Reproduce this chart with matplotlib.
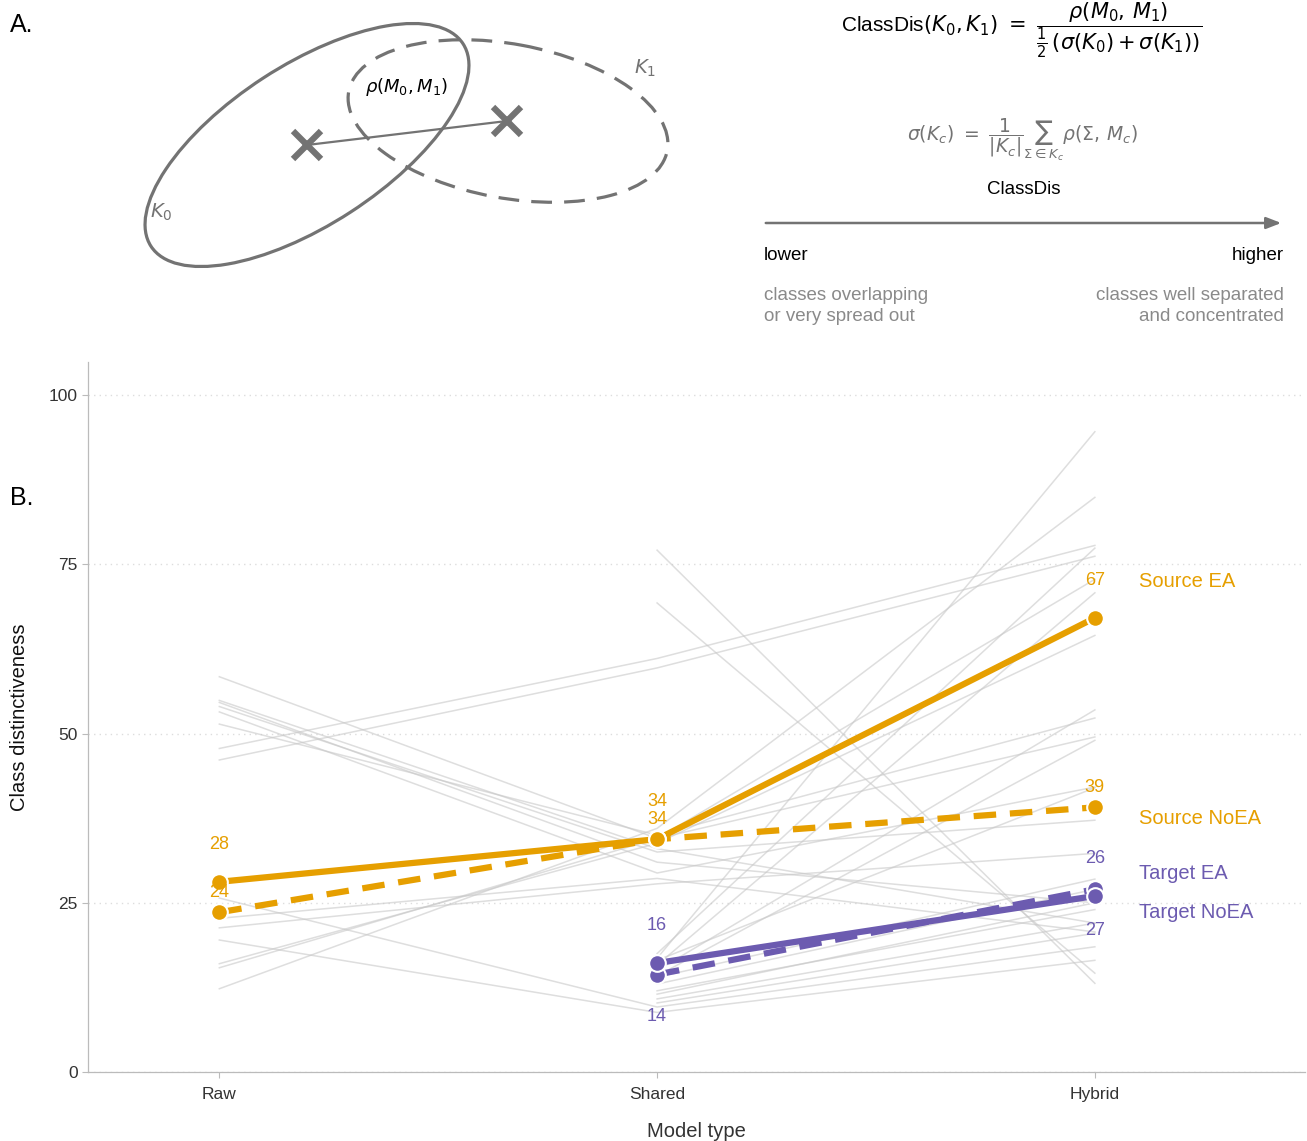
import matplotlib
matplotlib.use("Agg")
import matplotlib.pyplot as plt
from matplotlib.patches import Ellipse
import numpy as np

plt.rcParams['font.family'] = ['Liberation Sans', 'DejaVu Sans']
plt.rcParams['mathtext.fontset'] = 'dejavusans'

# ---- data ----
model_types = ["Raw", "Shared", "Hybrid"]

source_ea = [28.1, 34.4, 67.1]
source_noea = [23.6, 34.4, 39.1]
target_ea = [np.nan, 16.1, 26.0]
target_noea = [np.nan, 14.4, 27.0]

# individual source languages (Raw, Shared, Hybrid)
source_raw = [58.4, 54.9, 54.6, 54.0, 53.2, 51.4, 47.8, 46.1, 25.7, 22.7, 21.3, 19.5, 16.0, 15.4, 12.3]
source_shared = [34.5, 33.0, 31.0, 32.5, 29.4, 35.0, 61.1, 59.7, 9.6, 28.6, 27.8, 8.8, 33.8, 34.5, 36.0]
source_hybrid = [49.5, 22.0, 25.0, 37.2, 42.1, 52.3, 77.8, 76.2, 18.5, 20.7, 32.3, 16.5, 64.5, 72.8, 84.9]

# individual target languages (Shared, Hybrid)
target_shared = [77.1, 69.3, 16.8, 15.8, 15.0, 14.2, 17.5, 13.0, 12.0, 11.5, 10.8, 10.2, 16.5, 14.0]
target_hybrid = [13.1, 14.6, 94.6, 70.8, 53.5, 49.0, 77.4, 27.0, 24.0, 25.0, 22.0, 20.5, 42.0, 28.5]

series_names = ["Source EA", "Source NoEA", "Target EA", "Target NoEA"]
series_values = [source_ea, source_noea, target_ea, target_noea]

ORANGE = "#E69F00"
PURPLE = "#6c5bb0"
GRAY = "#737373"

styles = {
    "Source EA": dict(color=ORANGE, ls="-", lab_dy=27, name_dy=28, z=4),
    "Source NoEA": dict(color=ORANGE, ls=(0, (3.6, 2.2)), lab_dy=14.5, name_dy=-6.5, z=3),
    "Target EA": dict(color=PURPLE, ls="-", lab_dy=27, name_dy=18, z=4),
    "Target NoEA": dict(color=PURPLE, ls=(0, (3.6, 2.2)), lab_dy=-30, name_dy=-15, z=3),
}

W, H = 1307, 1141
fig = plt.figure(figsize=(W / 100, H / 100), dpi=100)

# ---- panel A: schematic, drawn in pixel coordinates ----
sk = fig.add_axes([0, 0, 1, 1])
sk.set_xlim(0, W)
sk.set_ylim(H, 0)
sk.axis("off")

sk.add_patch(Ellipse((307, 145), 2 * 186, 2 * 80, angle=-33, fill=False,
                     ec=GRAY, lw=2.3))
sk.add_patch(Ellipse((508, 121), 2 * 162, 2 * 77, angle=10.5, fill=False,
                     ec=GRAY, lw=2.3, ls=(0, (6.5, 3.8))))
sk.plot([307, 507], [145, 121], color=GRAY, lw=1.6)
sk.plot([307, 507], [145, 121], ls="none", marker="x", ms=20, mew=4.5, color=GRAY)
sk.text(407, 87, r"$\rho(M_0, M_1)$", fontsize=13, ha="center", va="center", color="black")
sk.text(161, 212, r"$K_0$", fontsize=14, ha="center", va="center", color=GRAY)
sk.text(645, 68, r"$K_1$", fontsize=14, ha="center", va="center", color=GRAY)

sk.text(1022, 30, r"ClassDis$(K_0, K_1)\ =\ \dfrac{\rho(M_0,\,M_1)}{\frac{1}{2}\,(\sigma(K_0) + \sigma(K_1))}$",
        fontsize=15, ha="center", va="center", color="black")
sk.text(1023, 140, r"$\sigma(K_c)\ =\ \dfrac{1}{|K_c|}\sum_{\Sigma\in K_c}\rho(\Sigma,\,M_c)$",
        fontsize=13.5, ha="center", va="center", color=GRAY)
sk.text(1024, 190, "ClassDis", fontsize=13.5, ha="center", va="center", color="black")
sk.annotate("", xy=(1284, 223), xytext=(763, 223),
            arrowprops=dict(arrowstyle="-|>,head_length=0.9,head_width=0.35",
                            color=GRAY, lw=1.8))
sk.text(764, 256, "lower", fontsize=13.5, ha="left", va="center", color="black")
sk.text(1284, 256, "higher", fontsize=13.5, ha="right", va="center", color="black")
sk.text(764, 306, "classes overlapping\nor very spread out", fontsize=13.5,
        ha="left", va="center", color="#8a8a8a", linespacing=1.35)
sk.text(1284, 306, "classes well separated\nand concentrated", fontsize=13.5,
        ha="right", va="center", color="#8a8a8a", linespacing=1.35, multialignment="right")

fig.text(10 / W, 1 - 25 / H, "A.", fontsize=18, va="center", ha="left")
fig.text(10 / W, 1 - 498 / H, "B.", fontsize=18, va="center", ha="left")

# ---- panel B: class distinctiveness per model type ----
ax = fig.add_axes([88 / W, 1 - 1072 / H, (1305 - 88) / W, (1072 - 362) / H])
ax.patch.set_alpha(0)
x = np.arange(len(model_types))

for r, s, h in zip(source_raw, source_shared, source_hybrid):
    ax.plot(x, [r, s, h], color="#c8c8c8", lw=1.1, alpha=0.6, zorder=1)
for s, h in zip(target_shared, target_hybrid):
    ax.plot(x[1:], [s, h], color="#c8c8c8", lw=1.1, alpha=0.6, zorder=1)

for name, vals in zip(series_names, series_values):
    st = styles[name]
    ax.plot(x, vals, color=st["color"], ls=st["ls"], lw=4.5, zorder=st["z"],
            solid_capstyle="butt", dash_capstyle="butt")
    ax.plot(x, vals, ls="none", marker="o", ms=12, mfc=st["color"], mec="white",
            mew=1.5, zorder=st["z"] + 2)
    for xi, v in zip(x, vals):
        if np.isnan(v):
            continue
        ax.annotate(f"{v:.0f}", (xi, v), xytext=(0, st["lab_dy"]), textcoords="offset points",
                    ha="center", va="center", fontsize=13, color=st["color"], zorder=8)
    ax.annotate(name, (x[-1], vals[-1]), xytext=(32, st["name_dy"] - 1.5), textcoords="offset points",
                ha="left", va="center", fontsize=14.5, color=st["color"], annotation_clip=False)

ax.set_xlim(-0.3, 2.48)
ax.set_ylim(0, 104.9)
ax.set_xticks(x)
ax.set_xticklabels(model_types)
ax.set_yticks([0, 25, 50, 75, 100])
ax.grid(axis="y", color="#dddddd", ls=(0, (1, 3)), lw=1)
ax.set_axisbelow(True)
for side in ["top", "right"]:
    ax.spines[side].set_visible(False)
for side in ["left", "bottom"]:
    ax.spines[side].set_color("#bbbbbb")
    ax.spines[side].set_linewidth(0.9)
ax.tick_params(axis="both", colors="#bbbbbb", labelcolor="#333333", labelsize=12.5, length=4)
ax.tick_params(axis="x", pad=7)
ax.set_xlabel("Model type", fontsize=14.5, color="#333333", labelpad=14)
ax.set_ylabel("Class distinctiveness", fontsize=14.5, color="#111111", labelpad=14)

fig.savefig("out.png", dpi=100)
